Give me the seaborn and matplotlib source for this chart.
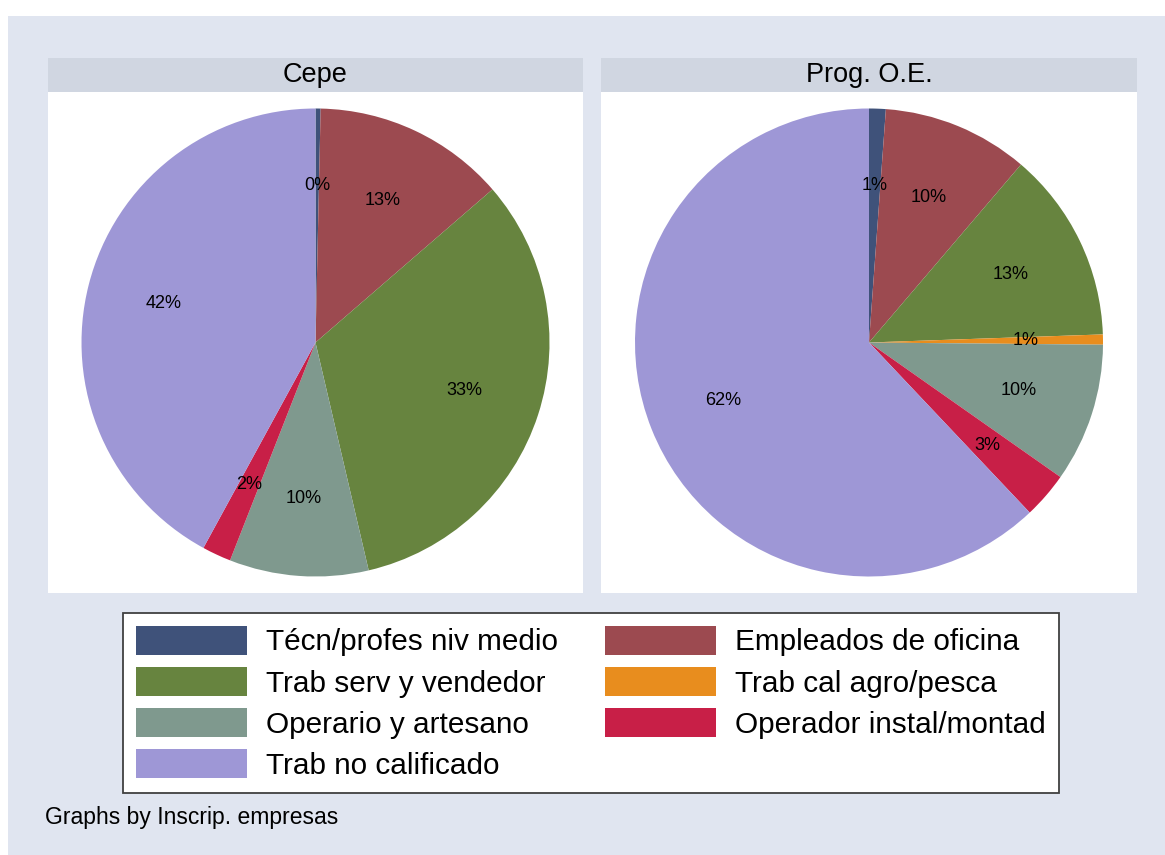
import matplotlib
matplotlib.use("Agg")
import matplotlib.pyplot as plt
import matplotlib.patches as mpatches
import seaborn as sns

# ---- data ----
categories = ["Técn/profes niv medio", "Empleados de oficina", "Trab serv y vendedor",
              "Trab cal agro/pesca", "Operario y artesano", "Operador instal/montad",
              "Trab no calificado"]
panels = ["Cepe", "Prog. O.E."]
cepe_values = [0.35, 13.3, 32.7, 0.0, 9.6, 2.0, 42.05]
prog_values = [1.15, 10.1, 13.2, 0.7, 9.6, 3.2, 62.05]
colors = ["#3F527A", "#9C4A50", "#67843F", "#E88D1E", "#7F998E", "#C81F47", "#9E97D6"]
footer = "Graphs by Inscrip. empresas"

sns.set_theme(style="white")
plt.rcParams["font.family"] = ["Liberation Sans", "DejaVu Sans"]
plt.rcParams["text.color"] = "black"
palette = sns.color_palette(colors)

W, H = 1165, 855
fig = plt.figure(figsize=(W / 100, H / 100), dpi=100, facecolor="white")

BG = "#E0E5F0"
STRIP = "#D0D6E1"
fig.patches.append(mpatches.Rectangle((8 / W, 0), 1 - 8 / W, 1 - 16 / H,
                                      transform=fig.transFigure, facecolor=BG,
                                      edgecolor="none", zorder=-10))

def fx(px):
    return px / W

def fy(py):
    return 1 - py / H

panel_x = [(48, 583), (601, 1137)]
plot_top, plot_bot = 92, 593
strip_top = 58
R = 234.0

for (x0, x1), name, vals in zip(panel_x, panels, [cepe_values, prog_values]):
    # strip
    sax = fig.add_axes([fx(x0), fy(plot_top), fx(x1 - x0), (plot_top - strip_top) / H])
    sax.set_facecolor(STRIP)
    sax.set_xticks([]); sax.set_yticks([])
    for s in sax.spines.values():
        s.set_visible(False)
    sax.text(0.5, 0.5, name, ha="center", va="center", fontsize=19.5,
             color="black", transform=sax.transAxes)

    ax = fig.add_axes([fx(x0), fy(plot_bot), fx(x1 - x0), (plot_bot - plot_top) / H])
    v = [a for a in vals if a > 0]
    c = [palette[i] for i, a in enumerate(vals) if a > 0]
    ax.pie(v, colors=c, startangle=90, counterclock=False,
           autopct=lambda p: f"{p:.0f}%", pctdistance=0.67,
           wedgeprops=dict(linewidth=0, edgecolor="none"),
           textprops=dict(fontsize=13, color="black"))
    ax.set_frame_on(True)
    ax.set_facecolor("white")
    ax.set_aspect("auto")
    hw = (x1 - x0) / 2 / R
    hh = (plot_bot - plot_top) / 2 / R
    ax.set_xlim(-hw, hw)
    ax.set_ylim(-hh, hh)
    for s in ax.spines.values():
        s.set_visible(False)
    ax.set_xticks([]); ax.set_yticks([])

# legend (Stata row-major order -> matplotlib column-major)
order = [0, 2, 4, 6, 1, 3, 5]
handles = [mpatches.Patch(facecolor=palette[i], edgecolor="none", label=categories[i])
           for i in order]
leg = fig.legend(handles=handles, loc="upper left",
                 bbox_to_anchor=(fx(123), fy(613)), bbox_transform=fig.transFigure,
                 ncol=2, fontsize=21.4, frameon=True, fancybox=False,
                 handlelength=3.73, handleheight=1.1, handletextpad=0.64,
                 columnspacing=1.58, labelspacing=0.36, borderpad=0.44,
                 borderaxespad=0, labelcolor="black")
fr = leg.get_frame()
fr.set_edgecolor("#404040")
fr.set_linewidth(1.3)
fr.set_facecolor("white")
fr.set_alpha(1)

fig.text(fx(45), fy(817), footer, fontsize=16.5, ha="left", va="center", color="black")

fig.savefig("out.png", dpi=100, facecolor=fig.get_facecolor())
